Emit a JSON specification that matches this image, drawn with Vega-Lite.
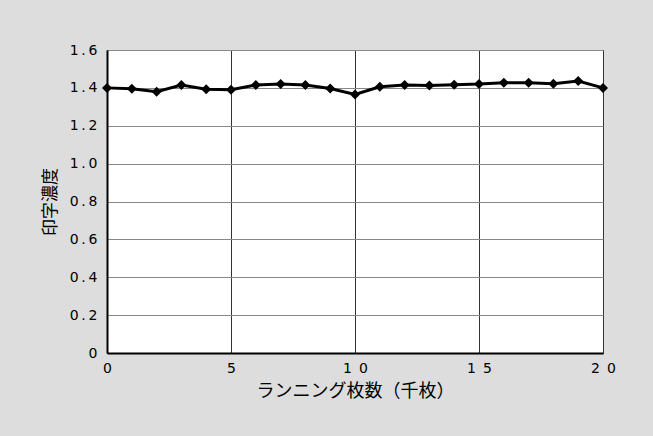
{
  "$schema": "https://vega.github.io/schema/vega-lite/v6.json",
  "width": 496,
  "height": 303,
  "autosize": {"type": "none"},
  "padding": {"left": 107, "top": 50, "right": 50, "bottom": 83},
  "background": "#dddddd",
  "config": {
    "view": {"fill": "white", "stroke": "black", "strokeWidth": 1},
    "font": "DejaVu Sans"
  },
  "data": {
    "values": [
      {"runs": 0, "density": 1.40},
      {"runs": 1, "density": 1.395},
      {"runs": 2, "density": 1.38},
      {"runs": 3, "density": 1.415},
      {"runs": 4, "density": 1.393},
      {"runs": 5, "density": 1.39},
      {"runs": 6, "density": 1.415},
      {"runs": 7, "density": 1.42},
      {"runs": 8, "density": 1.415},
      {"runs": 9, "density": 1.397},
      {"runs": 10, "density": 1.365},
      {"runs": 11, "density": 1.406},
      {"runs": 12, "density": 1.415},
      {"runs": 13, "density": 1.413},
      {"runs": 14, "density": 1.417},
      {"runs": 15, "density": 1.42},
      {"runs": 16, "density": 1.427},
      {"runs": 17, "density": 1.427},
      {"runs": 18, "density": 1.422},
      {"runs": 19, "density": 1.436},
      {"runs": 20, "density": 1.40}
    ]
  },
  "mark": {
    "type": "line",
    "color": "black",
    "strokeWidth": 3,
    "point": {"shape": "diamond", "size": 100, "filled": true, "color": "black", "opacity": 1}
  },
  "encoding": {
    "x": {
      "field": "runs",
      "type": "quantitative",
      "scale": {"domain": [0, 20], "nice": false, "zero": true},
      "axis": {
        "values": [0, 5, 10, 15, 20],
        "title": "ランニング枚数（千枚）",
        "titleFont": "Noto Sans CJK JP",
        "titleFontSize": 18,
        "titleFontWeight": "normal",
        "titleColor": "black",
        "titlePadding": 7,
        "labelExpr": "datum.value >= 10 ? floor(datum.value / 10) + '\u2002' + (datum.value % 10) : datum.label",
        "labelFontSize": 14,
        "labelColor": "black",
        "labelPadding": 8,
        "labelFlush": false,
        "ticks": false,
        "domainColor": "black",
        "domainWidth": 2,
        "gridColor": "#333333",
        "gridWidth": 1,
        "gridOpacity": 1
      }
    },
    "y": {
      "field": "density",
      "type": "quantitative",
      "scale": {"domain": [0, 1.6], "nice": false},
      "axis": {
        "values": [0, 0.2, 0.4, 0.6, 0.8, 1.0, 1.2, 1.4, 1.6],
        "title": "印字濃度",
        "titleFont": "Noto Sans CJK JP",
        "titleFontSize": 17,
        "titleFontWeight": "normal",
        "titleColor": "black",
        "titlePadding": 10,
        "labelExpr": "datum.value == 0 ? '0' : replace(format(datum.value, '.1f'), '.', '\u2009.\u2009')",
        "labelFontSize": 14,
        "labelColor": "black",
        "labelPadding": 10,
        "labelFlush": false,
        "ticks": false,
        "domainColor": "black",
        "domainWidth": 2,
        "gridColor": "#888888",
        "gridWidth": 1,
        "gridOpacity": 1
      }
    }
  }
}
